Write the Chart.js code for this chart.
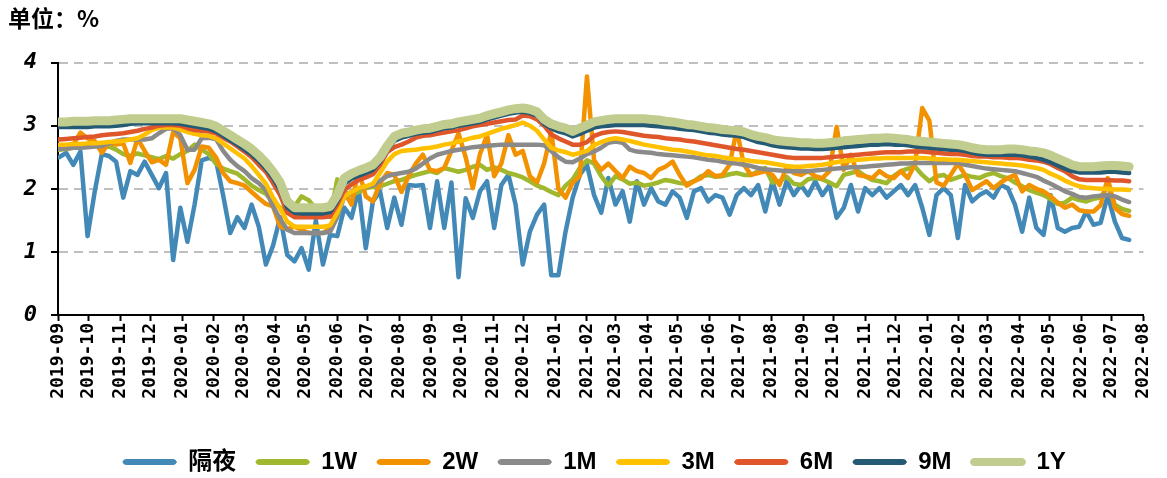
<!DOCTYPE html>
<html>
<head>
<meta charset="utf-8">
<script src="https://cdn.jsdelivr.net/npm/chart.js@4"></script>
<style>
  body { margin: 0; background: #fff; }
</style>
</head>
<body>
<canvas id="grafico" width="1167" height="478"></canvas>
<script>
// rotulos dos meses no eixo x
const meses = [
    "2019-09", "2019-10", "2019-11", "2019-12",
    "2020-01", "2020-02", "2020-03", "2020-04", "2020-05", "2020-06",
    "2020-07", "2020-08", "2020-09", "2020-10", "2020-11", "2020-12",
    "2021-01", "2021-02", "2021-03", "2021-04", "2021-05", "2021-06",
    "2021-07", "2021-08", "2021-09", "2021-10", "2021-11", "2021-12",
    "2022-01", "2022-02", "2022-03", "2022-04", "2022-05", "2022-06",
    "2022-07", "2022-08"
];

const series = ["隔夜", "1W", "2W", "1M", "3M", "6M", "9M", "1Y"];

// leituras semanais (%), a partir de 2019-09-02
const geYe = [
    2.50, 2.57, 2.38, 2.59, 1.25, 1.95, 2.55, 2.52, 2.43, 1.86,
    2.28, 2.22, 2.43, 2.22, 2.01, 2.25, 0.87, 1.70, 1.16, 1.75,
    2.45, 2.49, 2.45, 1.90, 1.30, 1.55, 1.38, 1.75, 1.40, 0.80,
    1.10, 1.55, 0.95, 0.85, 1.06, 0.72, 1.50, 0.80, 1.27, 1.25,
    1.70, 1.54, 2.00, 1.06, 1.80, 1.96, 1.38, 1.86, 1.43, 2.06,
    2.05, 2.06, 1.38, 2.12, 1.38, 2.10, 0.60, 1.85, 1.54, 1.96,
    2.12, 1.38, 2.06, 2.22, 1.75, 0.80, 1.32, 1.59, 1.75, 0.63,
    0.63, 1.32, 1.86, 2.22, 2.38, 1.90, 1.62, 2.17, 1.75, 1.96,
    1.48, 2.12, 1.75, 2.01, 1.80, 1.75, 1.96, 1.86, 1.54, 1.96,
    2.01, 1.80, 1.90, 1.86, 1.59, 1.90, 2.01, 1.90, 2.06, 1.64,
    2.12, 1.75, 2.12, 1.90, 2.06, 1.90, 2.12, 1.90, 2.06, 1.54,
    1.70, 2.06, 1.64, 2.01, 1.90, 2.01, 1.86, 1.96, 2.06, 1.90,
    2.06, 1.70, 1.27, 1.90, 2.01, 1.90, 1.22, 2.06, 1.80, 1.90,
    1.96, 1.86, 2.06, 2.01, 1.75, 1.32, 1.86, 1.38, 1.27, 1.90,
    1.38, 1.32, 1.38, 1.40, 1.64, 1.43, 1.46, 1.90, 1.48, 1.22, 1.19
];

const w1 = [
    2.62, 2.63, 2.65, 2.66, 2.67, 2.68, 2.66, 2.67, 2.62, 2.55,
    2.52, 2.56, 2.53, 2.50, 2.47, 2.52, 2.48, 2.55, 2.60, 2.70,
    2.62, 2.55, 2.40, 2.32, 2.28, 2.24, 2.15, 2.05, 1.98, 1.92,
    1.80, 1.70, 1.64, 1.72, 1.88, 1.82, 1.68, 1.60, 1.56, 2.15,
    1.95, 1.90, 1.95, 2.01, 2.03, 2.04, 2.08, 2.12, 2.14, 2.18,
    2.22, 2.25, 2.28, 2.25, 2.33, 2.30, 2.27, 2.30, 2.35, 2.38,
    2.30, 2.34, 2.30, 2.25, 2.22, 2.18, 2.12, 2.05, 2.01, 1.95,
    1.90, 2.05, 2.15, 2.33, 2.45, 2.40, 2.20, 2.05, 2.20, 2.15,
    2.08, 2.10, 2.05, 2.07, 2.10, 2.14, 2.12, 2.09, 2.08, 2.12,
    2.20, 2.22, 2.19, 2.20, 2.23, 2.25, 2.22, 2.22, 2.28, 2.33,
    2.10, 2.12, 2.19, 2.08, 2.06, 2.15, 2.17, 2.15, 2.10, 2.04,
    2.22, 2.25, 2.28, 2.20, 2.14, 2.12, 2.09, 2.20, 2.28, 2.32,
    2.35, 2.22, 2.12, 2.20, 2.22, 2.14, 2.18, 2.22, 2.19, 2.17,
    2.22, 2.25, 2.20, 2.17, 2.10, 2.04, 1.98, 1.94, 1.90, 1.84,
    1.76, 1.78, 1.86, 1.82, 1.80, 1.84, 1.86, 2.05, 1.75, 1.68, 1.65
];

const w2 = [
    2.65, 2.67, 2.70, 2.89, 2.80, 2.76, 2.57, 2.73, 2.70, 2.72,
    2.41, 2.80, 2.60, 2.42, 2.46, 2.38, 2.90, 2.80, 2.09, 2.30,
    2.67, 2.65, 2.50, 2.25, 2.12, 2.09, 2.05, 1.95, 1.85, 1.76,
    1.72, 1.40, 1.36, 1.40, 1.35, 1.30, 1.30, 1.30, 1.38, 1.60,
    1.95, 1.75, 2.30, 1.88, 1.80, 2.09, 2.25, 2.22, 1.95, 2.20,
    2.40, 2.54, 2.30, 2.28, 2.33, 2.60, 2.88, 2.50, 2.01, 2.55,
    2.85, 2.20, 2.40, 2.85, 2.54, 2.60, 2.20, 2.10, 2.40, 2.91,
    2.00, 1.86, 2.10, 2.20, 3.78, 2.45, 2.30, 2.40, 2.28, 2.17,
    2.35, 2.28, 2.25, 2.17, 2.30, 2.35, 2.43, 2.22, 2.05, 2.12,
    2.17, 2.28, 2.20, 2.22, 2.38, 2.94, 2.38, 2.22, 2.25, 2.28,
    2.22, 2.06, 2.35, 2.25, 2.22, 2.28, 2.20, 2.17, 2.28, 2.98,
    2.30, 2.54, 2.22, 2.20, 2.17, 2.28, 2.20, 2.17, 2.28, 2.17,
    2.40, 3.28, 3.08, 2.10, 2.05, 2.22, 2.40, 2.22, 1.98, 2.05,
    2.12, 2.01, 2.10, 2.17, 2.22, 1.96, 2.06, 2.00, 1.96, 1.88,
    1.78, 1.70, 1.75, 1.66, 1.64, 1.64, 1.74, 2.17, 1.70, 1.60, 1.57
];

const m1 = [
    2.63, 2.64, 2.65, 2.65, 2.66, 2.67, 2.68, 2.72, 2.76, 2.78,
    2.78, 2.78, 2.78, 2.80, 2.88, 2.95, 2.96, 2.85, 2.62, 2.62,
    2.80, 2.81, 2.79, 2.60, 2.46, 2.36, 2.28, 2.17, 2.09, 1.98,
    1.72, 1.52, 1.35, 1.30, 1.30, 1.30, 1.30, 1.30, 1.32, 1.55,
    1.88, 1.95, 2.01, 2.03, 2.05, 2.13, 2.20, 2.23, 2.25, 2.27,
    2.32, 2.40, 2.48, 2.54, 2.57, 2.60, 2.62, 2.64, 2.66, 2.67,
    2.68, 2.69, 2.70, 2.70, 2.70, 2.70, 2.70, 2.70, 2.69, 2.60,
    2.50, 2.43, 2.42, 2.48, 2.55, 2.59, 2.65, 2.73, 2.75, 2.73,
    2.62, 2.59, 2.58, 2.57, 2.55, 2.54, 2.53, 2.52, 2.51, 2.50,
    2.48, 2.46, 2.45, 2.43, 2.41, 2.40, 2.38, 2.36, 2.33, 2.31,
    2.30, 2.29, 2.28, 2.28, 2.28, 2.28, 2.29, 2.30, 2.31, 2.32,
    2.33, 2.34, 2.34, 2.35, 2.36, 2.37, 2.38, 2.39, 2.40, 2.40,
    2.41, 2.41, 2.41, 2.41, 2.41, 2.41, 2.41, 2.38, 2.36, 2.34,
    2.32, 2.31, 2.30, 2.29, 2.28, 2.25, 2.22, 2.19, 2.13, 2.08,
    2.02, 1.96, 1.92, 1.87, 1.86, 1.88, 1.89, 1.90, 1.88, 1.83, 1.79
];

const m3 = [
    2.70, 2.70, 2.71, 2.71, 2.72, 2.72, 2.73, 2.74, 2.75, 2.76,
    2.78, 2.80, 2.86, 2.93, 2.97, 2.97, 2.97, 2.94, 2.90, 2.87,
    2.85, 2.84, 2.80, 2.72, 2.64, 2.56, 2.48, 2.36, 2.22, 2.08,
    1.86, 1.68, 1.48, 1.40, 1.40, 1.40, 1.40, 1.40, 1.42, 1.62,
    1.88, 1.95, 2.01, 2.04, 2.08, 2.25, 2.43, 2.55, 2.60, 2.61,
    2.62, 2.64, 2.65, 2.67, 2.70, 2.72, 2.75, 2.78, 2.81, 2.83,
    2.87, 2.91, 2.95, 2.98, 3.01, 3.05, 3.00, 2.92, 2.78, 2.65,
    2.61, 2.58, 2.54, 2.57, 2.60, 2.69, 2.74, 2.78, 2.80, 2.78,
    2.76, 2.73, 2.70, 2.68, 2.66, 2.64, 2.62, 2.61, 2.59, 2.57,
    2.55, 2.53, 2.52, 2.50, 2.48, 2.47, 2.46, 2.44, 2.43, 2.42,
    2.40, 2.38, 2.36, 2.35, 2.35, 2.36, 2.37, 2.38, 2.40, 2.42,
    2.44, 2.45, 2.46, 2.47, 2.48, 2.48, 2.49, 2.49, 2.49, 2.49,
    2.49, 2.49, 2.48, 2.47, 2.47, 2.46, 2.46, 2.45, 2.44, 2.43,
    2.42, 2.41, 2.40, 2.39, 2.38, 2.37, 2.35, 2.33, 2.30, 2.24,
    2.19, 2.13, 2.08, 2.04, 2.02, 2.01, 2.00, 2.00, 1.99, 1.99, 1.98
];

const m6 = [
    2.78, 2.79, 2.80, 2.81, 2.82, 2.83, 2.85, 2.86, 2.87, 2.88,
    2.90, 2.92, 2.95, 2.97, 3.00, 3.01, 3.01, 3.00, 2.96, 2.93,
    2.92, 2.91, 2.88, 2.81, 2.75, 2.67, 2.59, 2.50, 2.38, 2.27,
    2.09, 1.90, 1.62, 1.55, 1.55, 1.55, 1.55, 1.55, 1.56, 1.75,
    1.98, 2.07, 2.14, 2.18, 2.23, 2.38, 2.58, 2.66, 2.70, 2.75,
    2.81, 2.84, 2.85, 2.87, 2.89, 2.91, 2.93, 2.96, 2.99, 3.01,
    3.03, 3.05, 3.07, 3.09, 3.10, 3.16, 3.15, 3.10, 3.00, 2.86,
    2.80, 2.75, 2.70, 2.70, 2.74, 2.84, 2.88, 2.90, 2.91, 2.90,
    2.88, 2.86, 2.84, 2.83, 2.82, 2.80, 2.79, 2.78, 2.76, 2.75,
    2.73, 2.71, 2.69, 2.67, 2.65, 2.63, 2.62, 2.60, 2.58, 2.56,
    2.54, 2.52, 2.50, 2.49, 2.49, 2.49, 2.49, 2.49, 2.50, 2.51,
    2.52, 2.53, 2.54, 2.55, 2.56, 2.57, 2.58, 2.58, 2.58, 2.59,
    2.59, 2.59, 2.58, 2.57, 2.56, 2.55, 2.55, 2.54, 2.52, 2.51,
    2.51, 2.50, 2.50, 2.49, 2.49, 2.48, 2.46, 2.45, 2.43, 2.39,
    2.33, 2.28, 2.20, 2.15, 2.14, 2.14, 2.14, 2.14, 2.13, 2.13, 2.12
];

const m9 = [
    2.98, 2.98, 2.98, 2.98, 2.98, 2.99, 2.99, 2.99, 3.00, 3.01,
    3.03, 3.04, 3.04, 3.04, 3.04, 3.04, 3.04, 3.03, 3.01, 2.99,
    2.97, 2.95, 2.91, 2.84, 2.77, 2.70, 2.62, 2.54, 2.44, 2.32,
    2.17, 1.98, 1.70, 1.62, 1.61, 1.61, 1.61, 1.61, 1.63, 1.80,
    2.08, 2.16, 2.21, 2.25, 2.30, 2.43, 2.61, 2.76, 2.81, 2.84,
    2.87, 2.89, 2.90, 2.93, 2.96, 2.97, 3.00, 3.02, 3.04, 3.06,
    3.10, 3.13, 3.16, 3.19, 3.21, 3.22, 3.20, 3.16, 3.03, 2.96,
    2.91, 2.88, 2.83, 2.87, 2.92, 2.97, 2.99, 3.00, 3.01, 3.01,
    3.01, 3.01, 3.01, 3.00, 2.99, 2.98, 2.97, 2.95, 2.94, 2.93,
    2.91, 2.89, 2.88, 2.86, 2.85, 2.84, 2.82, 2.78, 2.74, 2.72,
    2.69, 2.67, 2.66, 2.65, 2.64, 2.64, 2.63, 2.63, 2.64, 2.65,
    2.66, 2.67, 2.68, 2.69, 2.70, 2.70, 2.71, 2.70, 2.70, 2.69,
    2.67, 2.66, 2.65, 2.64, 2.63, 2.62, 2.62, 2.60, 2.57, 2.55,
    2.54, 2.54, 2.54, 2.54, 2.54, 2.53, 2.51, 2.49, 2.46, 2.42,
    2.37, 2.32, 2.28, 2.26, 2.26, 2.26, 2.26, 2.27, 2.27, 2.26, 2.25
];

const y1 = [
    3.06, 3.06, 3.07, 3.07, 3.07, 3.08, 3.08, 3.08, 3.09, 3.10,
    3.11, 3.11, 3.11, 3.11, 3.11, 3.11, 3.11, 3.11, 3.09, 3.07,
    3.05, 3.03, 2.99, 2.92, 2.85, 2.78, 2.71, 2.63, 2.53, 2.41,
    2.27, 2.10, 1.80, 1.70, 1.70, 1.70, 1.70, 1.70, 1.72, 1.90,
    2.17, 2.24, 2.29, 2.33, 2.38, 2.50, 2.68, 2.83, 2.88, 2.90,
    2.93, 2.95, 2.96, 2.99, 3.02, 3.03, 3.06, 3.08, 3.10, 3.12,
    3.16, 3.19, 3.22, 3.25, 3.27, 3.28, 3.26, 3.22, 3.10, 3.03,
    2.99, 2.96, 2.91, 2.96, 3.01, 3.06, 3.08, 3.10, 3.11, 3.11,
    3.11, 3.11, 3.11, 3.10, 3.09, 3.07, 3.06, 3.04, 3.02, 3.01,
    2.99, 2.97, 2.96, 2.94, 2.93, 2.92, 2.90, 2.86, 2.83, 2.81,
    2.78, 2.76, 2.75, 2.74, 2.73, 2.73, 2.72, 2.72, 2.73, 2.74,
    2.76, 2.77, 2.78, 2.79, 2.80, 2.80, 2.81, 2.80, 2.79, 2.78,
    2.76, 2.75, 2.74, 2.73, 2.72, 2.71, 2.70, 2.68, 2.65, 2.63,
    2.62, 2.62, 2.62, 2.63, 2.63, 2.62, 2.60, 2.59, 2.57, 2.53,
    2.48, 2.43, 2.38, 2.35, 2.35, 2.35, 2.36, 2.37, 2.37, 2.36, 2.35
];

const valores = [geYe, w1, w2, m1, m3, m6, m9, y1];
const cores = ["#4289b8", "#a0b82e", "#f39200", "#8a8a8a", "#ffc000", "#e0562b", "#255a74", "#c0cd8e"];
const espessuras = [4.5, 4.5, 4.5, 4.5, 4.5, 4.5, 4.5, 9];

// dias contados a partir de 2019-09-01
const DIA = 86400000;
const origem = Date.UTC(2019, 8, 1);

const mesDias = meses.map(m => {
    const [a, mm] = m.split("-").map(Number);
    return (Date.UTC(a, mm - 1, 1) - origem) / DIA;
});

const semanas = geYe.map((v, i) => (Date.UTC(2019, 8, 2 + 7 * i) - origem) / DIA);

const datasets = series.map((nome, i) => ({
    label: nome,
    data: valores[i],
    borderColor: cores[i],
    backgroundColor: cores[i],
    borderWidth: espessuras[i],
    order: series.length - i,
    fill: false
}));

// a legenda do original fica um pouco mais a direita
const deslocaLegenda = {
    id: "deslocaLegenda",
    afterLayout(chart) {
        chart.legend.left += 17;
        chart.legend.right += 17;
    }
};

const fonteMono = "'DejaVu Sans Mono', monospace";

new Chart(document.getElementById("grafico"), {
    type: "line",
    data: {
        labels: semanas,
        datasets: datasets
    },
    plugins: [deslocaLegenda],
    options: {
        responsive: false,
        animation: false,
        devicePixelRatio: 1,
        layout: { padding: { left: 8, right: 20, top: 4, bottom: 0 } },
        elements: {
            point: { radius: 0, hoverRadius: 0 },
            line: { tension: 0, borderCapStyle: "round", borderJoinStyle: "round" }
        },
        plugins: {
            title: {
                display: true,
                text: "单位：%",
                align: "start",
                color: "#000",
                font: { family: "'Noto Sans CJK SC', sans-serif", size: 23, weight: "bold" },
                padding: { top: 0, bottom: 31 }
            },
            legend: {
                position: "bottom",
                maxHeight: 48,
                labels: {
                    boxWidth: 53,
                    boxHeight: 5,
                    padding: 20,
                    color: "#000",
                    useBorderRadius: true,
                    borderRadius: 3,
                    font: { family: "'Liberation Sans', 'Noto Sans CJK SC', sans-serif", size: 24, weight: "bold" },
                    generateLabels: chart => chart.data.datasets.map((ds, i) => ({
                        text: ds.label,
                        fillStyle: ds.borderColor,
                        strokeStyle: ds.borderColor,
                        lineWidth: ds.borderWidth > 5 ? 3 : 1,
                        borderRadius: 3,
                        fontColor: "#000",
                        hidden: false,
                        datasetIndex: i
                    }))
                }
            },
            tooltip: { enabled: false }
        },
        scales: {
            x: {
                type: "linear",
                min: 0,
                max: mesDias[mesDias.length - 1],
                afterBuildTicks: scale => {
                    scale.ticks = mesDias.map(d => ({ value: d }));
                },
                afterFit: scale => { scale.height = 115; },
                ticks: {
                    autoSkip: false,
                    minRotation: 90,
                    maxRotation: 90,
                    padding: 2,
                    color: "#000",
                    font: { family: fonteMono, size: 18, weight: "bold" },
                    callback: (v, i) => meses[i]
                },
                grid: {
                    drawOnChartArea: false,
                    drawTicks: true,
                    tickLength: 6,
                    tickWidth: 2,
                    tickColor: "#000"
                },
                border: { display: true, color: "#000", width: 2 }
            },
            y: {
                min: 0,
                max: 4,
                afterFit: scale => { scale.width = 50; },
                ticks: {
                    stepSize: 1,
                    padding: 14,
                    color: "#000",
                    font: { family: fonteMono, size: 22, weight: "bold", style: "italic" }
                },
                grid: {
                    color: c => c.tick && c.tick.value === 0 ? "rgba(0,0,0,0)" : "#bfbfbf",
                    lineWidth: 2,
                    tickLength: 7,
                    tickWidth: 2,
                    tickColor: "#000",
                    tickBorderDash: []
                },
                border: { display: true, color: "#000", width: 2, dash: [9, 6] }
            }
        }
    }
});
</script>
</body>
</html>
